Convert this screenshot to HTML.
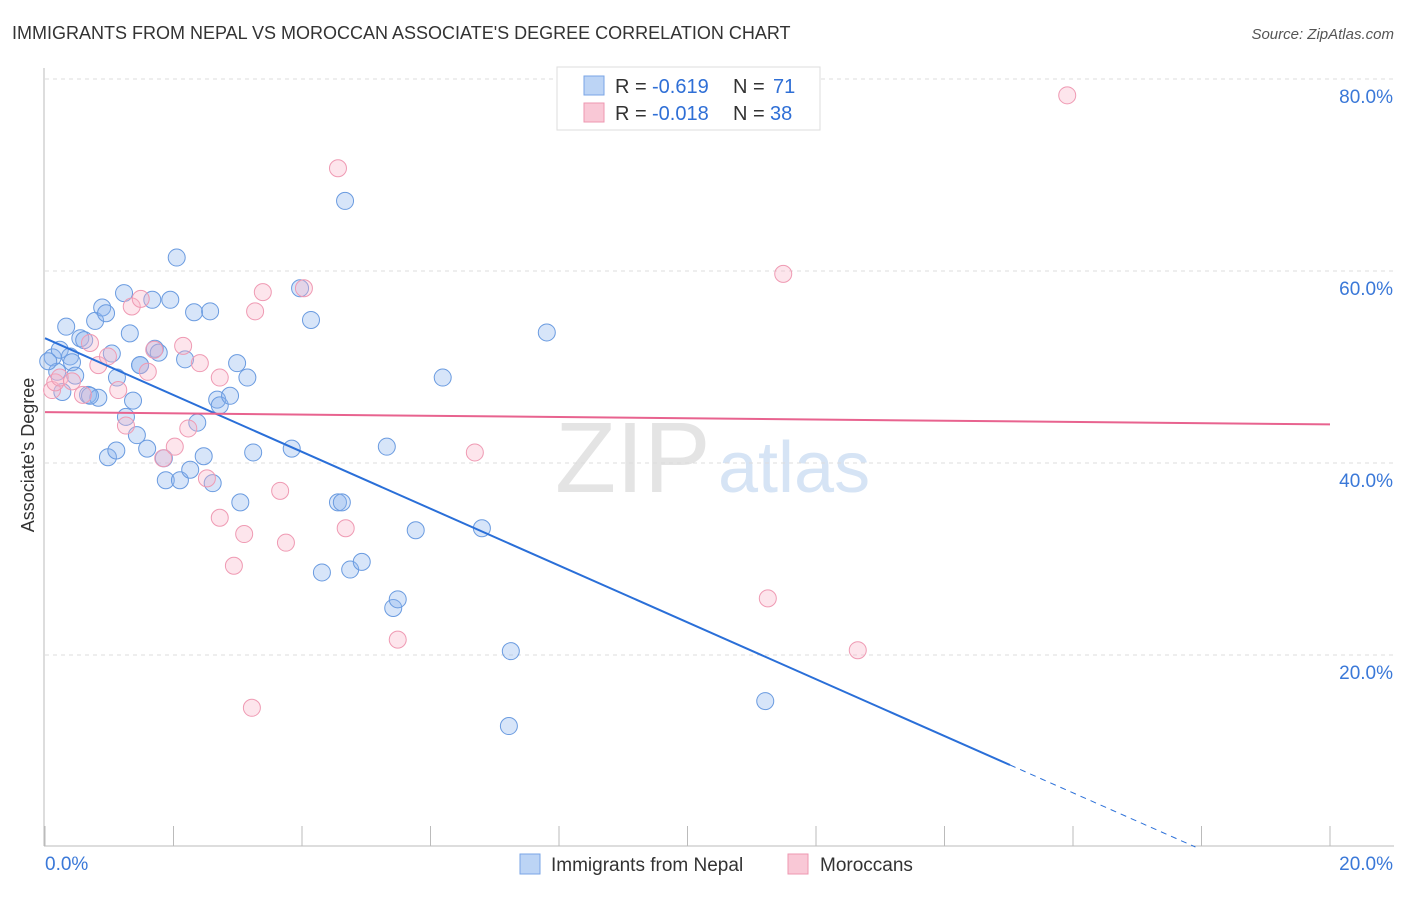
<!DOCTYPE html>
<html><head><meta charset="utf-8"><style>
body{margin:0;background:#fff;font-family:"Liberation Sans",sans-serif;}
svg text{font-family:"Liberation Sans",sans-serif;}
</style></head><body>
<svg id="chart" width="1406" height="892">
<text x="12" y="39" font-size="18" fill="#333">IMMIGRANTS FROM NEPAL VS MOROCCAN ASSOCIATE'S DEGREE CORRELATION CHART</text>
<text x="1394" y="39" font-size="15" fill="#555" text-anchor="end" font-style="italic">Source: ZipAtlas.com</text>
<text x="555" y="492" font-size="100" fill="#e4e4e4" font-family="Liberation Serif">ZIP</text>
<text x="718" y="492" font-size="72" fill="#d6e4f5">atlas</text>
<g id="grid"></g><g id="axes"></g><g id="pts"></g><g id="lines"></g>
<text transform="translate(34,455) rotate(-90)" font-size="18" fill="#333" text-anchor="middle">Associate's Degree</text>
<g>
<rect x="557" y="67" width="263" height="63" fill="#fff" stroke="#ddd"/>
<rect x="584" y="76" width="20" height="19" fill="#bcd4f5" stroke="#7aa5e6"/>
<text x="615" y="93" font-size="20" fill="#333">R = </text><text x="652" y="93" font-size="20" fill="#2f6fd6">-0.619</text>
<text x="733" y="93" font-size="20" fill="#333">N = </text><text x="773" y="93" font-size="20" fill="#2f6fd6">71</text>
<rect x="584" y="103" width="20" height="19" fill="#f9c8d6" stroke="#ee97b0"/>
<text x="615" y="120" font-size="20" fill="#333">R = </text><text x="652" y="120" font-size="20" fill="#2f6fd6">-0.018</text>
<text x="733" y="120" font-size="20" fill="#333">N = </text><text x="770" y="120" font-size="20" fill="#2f6fd6">38</text>
</g>
<g>
<rect x="520" y="854" width="20" height="20" fill="#bcd4f5" stroke="#7aa5e6"/>
<text x="551" y="871" font-size="19" fill="#333">Immigrants from Nepal</text>
<rect x="788" y="854" width="20" height="20" fill="#f9c8d6" stroke="#ee97b0"/>
<text x="820" y="871" font-size="19" fill="#333">Moroccans</text>
</g>
</svg>
<script>
const yTicks=[20,40,60,80];
const yTickLabels=["20.0%","40.0%","60.0%","80.0%"];
const xTickLabels=["0.0%","20.0%"];
const nepalX=[0.12,0.19,0.23,0.33,0.39,0.42,0.55,0.61,0.67,0.78,0.83,0.89,0.95,1.04,1.12,1.23,1.26,1.32,1.37,1.43,1.48,1.59,1.67,1.71,1.77,1.85,1.88,1.95,2.99,2.05,2.1,2.18,2.26,2.32,2.37,2.47,2.57,2.61,2.68,2.72,2.88,3.04,3.15,3.24,3.84,3.97,4.14,4.31,4.56,4.62,4.67,4.75,4.93,5.32,5.42,5.49,5.77,6.19,6.8,7.25,7.22,7.81,11.21,0.98,1.11,0.7,0.05,0.27,0.47,1.48];
const nepalY=[51,49.5,51.8,54.2,51.1,50.5,53,52.8,47.1,54.8,46.8,56.2,55.6,51.4,48.9,57.7,44.8,53.5,46.5,42.9,50.2,41.5,57,51.9,51.5,40.5,38.2,57,50.4,61.4,38.2,50.8,39.3,55.7,44.2,40.7,55.8,37.9,46.6,46,47,35.9,48.9,41.1,41.5,58.2,54.9,28.6,35.9,35.9,67.3,28.9,29.7,41.7,24.9,25.8,32.995,48.9,33.2,20.4,12.6,53.6,15.2,40.6,41.3,47,50.6,47.4,49.1,50.2];
const morX=[0.11,0.16,0.23,0.42,0.59,0.7,0.83,0.98,1.14,1.26,1.35,1.49,1.6,1.7,1.84,2.02,2.15,2.23,2.41,2.52,2.72,2.72,2.94,3.1,3.22,3.27,3.39,3.66,3.75,4.03,4.56,4.68,5.49,6.69,11.25,11.49,12.65,15.91];
const morY=[47.6,48.4,48.9,48.5,47.1,52.5,50.2,51.1,47.6,43.9,56.3,57.1,49.5,51.8,40.5,41.7,52.2,43.6,50.4,38.4,48.9,34.3,29.3,32.6,14.5,55.8,57.8,37.1,31.7,58.2,70.7,33.2,21.6,41.1,25.9,59.7,20.5,78.3];
const nepalFit=[53.0,-2.96];
const morFit=[45.3,-0.064];
const NS="http://www.w3.org/2000/svg";
const X0=45,X1=1330,YB=847,YS=9.6;
function sx(v){return X0+(v/20)*(X1-X0);}
function sy(v){return YB-v*YS;}
function mk(t,a,p){const e=document.createElementNS(NS,t);for(const k in a)e.setAttribute(k,a[k]);document.getElementById(p).appendChild(e);return e;}
yTicks.forEach((t,i)=>{
 const g=mk('line',{x1:45,x2:1394,y1:sy(t),y2:sy(t),stroke:'#ddd','stroke-dasharray':'4,4'},'grid');
 
 
 const l=mk('text',{x:1393,y:sy(t)+24,'font-size':19,fill:'#3a78d8','text-anchor':'end'},'axes');
 l.textContent=yTickLabels[i];
 
 
});
const ax=mk('line',{x1:44,x2:44,y1:68,y2:846,stroke:'#bbb'},'axes');


const bx=mk('line',{x1:44,x2:1394,y1:846,y2:846,stroke:'#bbb'},'axes');


for(let i=0;i<=10;i++){mk('line',{x1:sx(i*2),x2:sx(i*2),y1:826,y2:846,stroke:'#bbb'},'axes');}
const xl0=mk('text',{x:45,y:870,'font-size':19,fill:'#3a78d8'},'axes');xl0.textContent=xTickLabels[0];


const xl1=mk('text',{x:1393,y:870,'font-size':19,fill:'#3a78d8','text-anchor':'end'},'axes');xl1.textContent=xTickLabels[1];


nepalX.forEach((x,i)=>{const c=mk('circle',{cx:sx(x),cy:sy(nepalY[i]),r:8.5,fill:'rgba(140,180,238,0.35)',stroke:'#6a9be0','stroke-width':1},'pts');
 
 });
morX.forEach((x,i)=>{const c=mk('circle',{cx:sx(x),cy:sy(morY[i]),r:8.5,fill:'rgba(248,180,200,0.35)',stroke:'#ef9ab3','stroke-width':1},'pts');
 
 });
const f=(p,x)=>p[0]+p[1]*x;
const xEnd=-nepalFit[0]/nepalFit[1];
const bl=mk('line',{x1:sx(0),y1:sy(f(nepalFit,0)),x2:sx(15.02),y2:sy(f(nepalFit,15.02)),stroke:'#2a6fd8','stroke-width':2},'lines');


const bd=mk('line',{x1:sx(15.02),y1:sy(f(nepalFit,15.02)),x2:sx(xEnd),y2:sy(0),stroke:'#2a6fd8','stroke-width':1,'stroke-dasharray':'6,5'},'lines');


const pl=mk('line',{x1:sx(0),y1:sy(f(morFit,0)),x2:sx(20),y2:sy(f(morFit,20)),stroke:'#e8638f','stroke-width':2},'lines');


</script>
</body></html>
